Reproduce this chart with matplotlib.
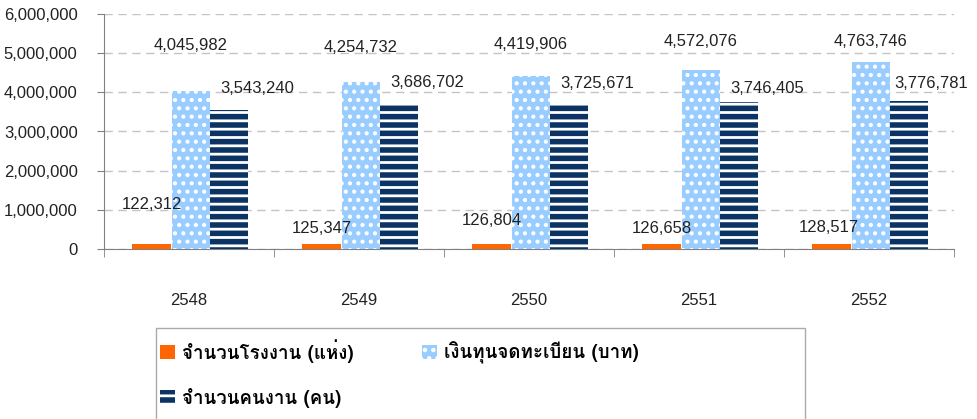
import numpy as np
import matplotlib
matplotlib.use("Agg")
import matplotlib.pyplot as plt
from matplotlib import font_manager
from matplotlib.ft2font import FT2Font
from matplotlib.patches import Rectangle

years = ["2548", "2549", "2550", "2551", "2552"]
factories = [122312, 125347, 126804, 126658, 128517]
capital = [4045982, 4254732, 4419906, 4572076, 4763746]
workers = [3543240, 3686702, 3725671, 3746405, 3776781]
series_names = [
    "จำนวนโรงงาน (แห่ง)",
    "เงินทุนจดทะเบียน (บาท)",
    "จำนวนคนงาน (คน)",
]


def find_thai_font():
    # first installed font that has Thai glyphs
    for f in font_manager.fontManager.ttflist:
        try:
            if 0x0E08 in FT2Font(f.fname).get_charmap():
                return f.name
        except Exception:
            pass
    return "DejaVu Sans"


thai_font = find_thai_font()
num_font = "Liberation Sans"

# label offsets in pixels (dx, dy) from top centre of each bar
factories_off = [(0, 40), (0, 16), (0, 24), (0, 16), (-3, 16)]
capital_off = [(0, 45), (0, 35), (0, 31), (0, 28), (0, 21)]
workers_off = [(28, 22), (28, 22), (28, 20), (28, 14), (22, 18)]

fig = plt.figure(figsize=(9.77, 4.19), dpi=100)
ax = fig.add_axes([104 / 977, 1 - 249 / 419, 850 / 977, 235 / 419])

x = np.arange(len(years))
w = 0.225

plt.rcParams["hatch.linewidth"] = 1.0
b1 = ax.bar(x - 0.22, factories, w, color="#FF6600", zorder=3)
plt.rcParams["hatch.linewidth"] = 1.8
b2 = ax.bar(x + 0.01, capital, w, color="#99CCFF", edgecolor="white",
            hatch="..", linewidth=0, zorder=3)
plt.rcParams["hatch.linewidth"] = 2.0
b3 = ax.bar(x + 0.235, workers, w, color="#0B3363", edgecolor="white",
            hatch="--", linewidth=0, zorder=3)

for bars, vals, offs in [(b1, factories, factories_off),
                         (b2, capital, capital_off),
                         (b3, workers, workers_off)]:
    for bar, v, (dx, dy) in zip(bars, vals, offs):
        ax.annotate(f"{v:,}", (bar.get_x() + bar.get_width() / 2, v),
                    xytext=(dx, dy), textcoords="offset pixels",
                    ha="center", va="center", fontsize=12,
                    family=num_font, color="#222222", zorder=4)

ax.set_xlim(-0.5, len(years) - 0.5)
ax.set_ylim(0, 6000000)
ax.set_yticks(np.arange(0, 6000001, 1000000))
ax.yaxis.set_major_formatter(matplotlib.ticker.FuncFormatter(
    lambda v, p: f"{int(v):,}"))
ax.yaxis.grid(True, linestyle=(0, (6, 4)), color="#C4C4C4", linewidth=1)
ax.set_axisbelow(True)

ax.set_xticks(x)
ax.set_xticklabels(years)
ax.set_xticks(np.arange(-0.5, len(years)), minor=True)
ax.tick_params(axis="x", which="major", length=0, pad=32)
ax.tick_params(axis="x", which="minor", length=6, color="#808080",
               direction="out")
ax.tick_params(axis="y", length=5, color="#808080", pad=14)
for lab in ax.get_xticklabels() + ax.get_yticklabels():
    lab.set_family(num_font)
    lab.set_fontsize(12)
    lab.set_color("#222222")

for s in ["top", "right"]:
    ax.spines[s].set_visible(False)
for s in ["left", "bottom"]:
    ax.spines[s].set_color("#808080")

# legend frame runs off the bottom of the image
fig.patches.append(Rectangle((156 / 977, -0.1), 649 / 977, 0.1 + 91 / 419,
                             transform=fig.transFigure, fill=False,
                             edgecolor="#AAAAAA", linewidth=1))

handles = [b1, b3, b2]
labels = [series_names[0], series_names[2], series_names[1]]
fig.legend(handles, labels, ncol=2, frameon=False,
           loc="upper left", bbox_to_anchor=(143 / 977, 1 - 322 / 419),
           prop={"family": thai_font, "size": 13.5, "weight": "bold"},
           handlelength=0.8, handleheight=0.8, handletextpad=0.4,
           columnspacing=3.6, labelspacing=1.35)

fig.savefig("out.png", dpi=100)
